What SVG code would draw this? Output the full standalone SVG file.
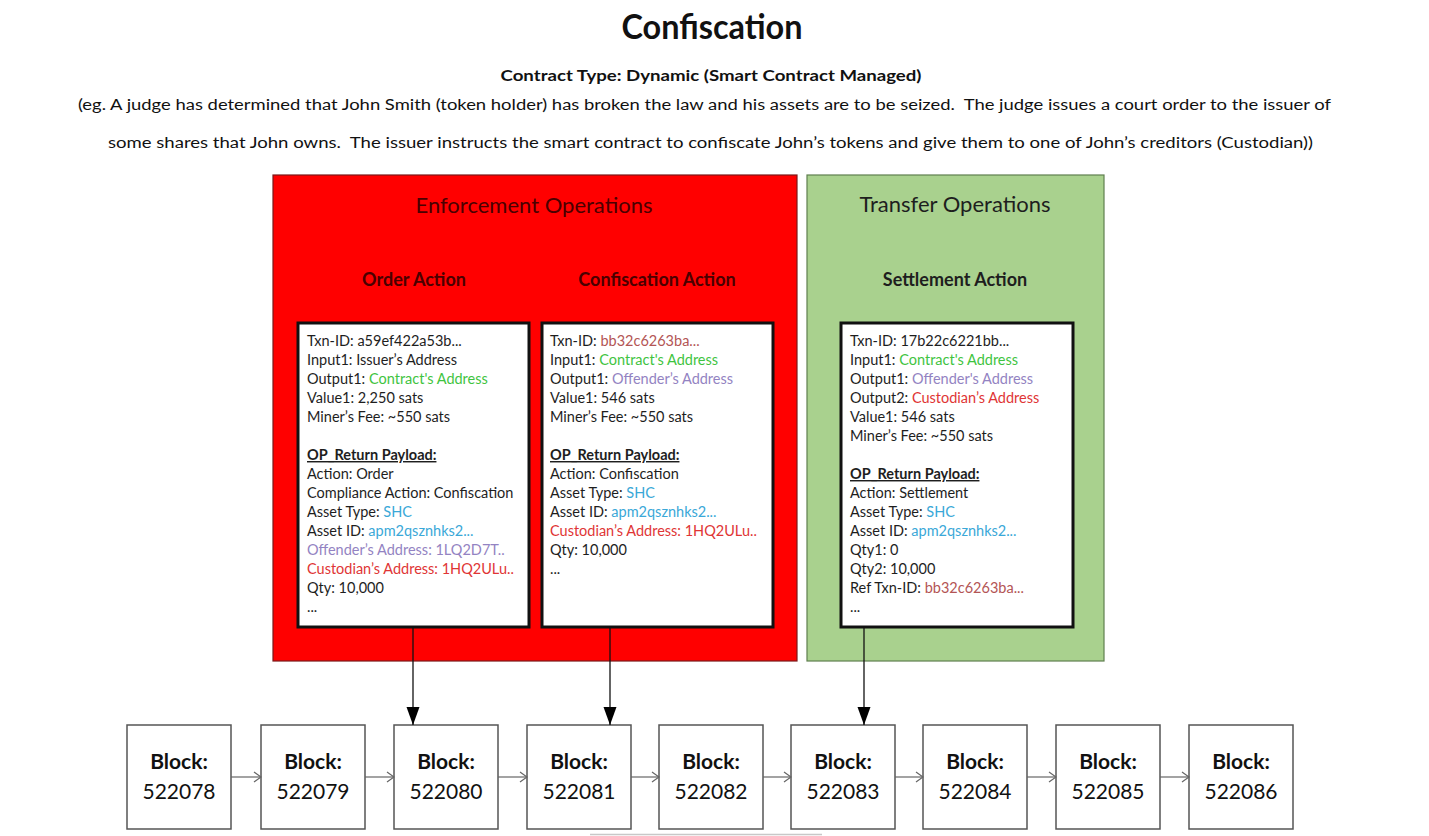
<svg xmlns="http://www.w3.org/2000/svg" width="1429" height="836" viewBox="0 0 1429 836">
<style>
text{font-family:Lato,"Open Sans","Liberation Sans",sans-serif;fill:#1e1e1e}
.title{font-size:35px;font-weight:bold;text-anchor:middle;fill:#111}
.sub{font-size:15.5px;font-weight:bold;text-anchor:middle;fill:#111}
.desc{font-size:15.5px;fill:#111}
.grp{font-size:22px;text-anchor:middle}
.act{font-size:18px;font-weight:bold;text-anchor:middle}
.red .grp,.red .act{fill:#4a0000}
.tx{font-size:14.5px}
.hd{font-weight:bold;text-decoration:underline}
.g{fill:#3fc43f}.p{fill:#9383c2}.r{fill:#e03535}.b{fill:#3aa8d8}.br{fill:#b35555}
.txbox{fill:#fff;stroke:#111;stroke-width:3}
.blk rect{fill:#fff;stroke:#555;stroke-width:1.5}
.blk text{font-size:21px;text-anchor:middle;fill:#111}
.blk .bl{font-weight:bold}
.conn line{stroke:#111;stroke-width:1.3}
.conn line.chain{stroke:#666;stroke-width:1.2}
</style>
<defs>
<marker id="tip" markerUnits="userSpaceOnUse" markerWidth="20" markerHeight="14" viewBox="0 0 20 14" refX="19" refY="7" orient="auto">
<path d="M1,0.5 L19,7 L1,13.5 Z" fill="#000"/>
</marker>
<marker id="chev" markerUnits="userSpaceOnUse" markerWidth="10" markerHeight="12" viewBox="0 0 10 12" refX="9" refY="6" orient="auto">
<path d="M2,1 L9,6 L2,11" fill="none" stroke="#666" stroke-width="1.2"/>
</marker>
</defs>
<rect width="1429" height="836" fill="#fff"/>

<g id="header">
<text class="title" x="712" y="39" textLength="181" lengthAdjust="spacingAndGlyphs">Confiscation</text>
<text class="sub" x="711" y="81" textLength="421" lengthAdjust="spacingAndGlyphs">Contract Type: Dynamic (Smart Contract Managed)</text>
<text class="desc" x="78" y="110" textLength="1253" lengthAdjust="spacingAndGlyphs" xml:space="preserve">(eg. A judge has determined that John Smith (token holder) has broken the law and his assets are to be seized.  The judge issues a court order to the issuer of</text>
<text class="desc" x="108" y="148" textLength="1205" lengthAdjust="spacingAndGlyphs" xml:space="preserve">some shares that John owns.  The issuer instructs the smart contract to confiscate John’s tokens and give them to one of John’s creditors (Custodian))</text>
</g>

<g id="enforcement" class="red">
<rect x="273" y="175" width="524" height="486" fill="#ff0000" stroke="#7a1a1a" stroke-width="1.2"/>
<text class="grp" x="534" y="213">Enforcement Operations</text>
<text class="act" x="414" y="286">Order Action</text>
<text class="act" x="657" y="286">Confiscation Action</text>
</g>

<g id="transfer">
<rect x="807" y="175" width="297" height="486" fill="#a9d18e" stroke="#5f7f4f" stroke-width="1.2"/>
<text class="grp" x="955" y="212">Transfer Operations</text>
<text class="act" x="955" y="286">Settlement Action</text>
</g>

<g id="order-tx">
<rect class="txbox" x="298" y="323" width="231" height="304"/>
<text class="tx" x="307" y="346">Txn-ID: a59ef422a53b...</text>
<text class="tx" x="307" y="365">Input1: Issuer’s Address</text>
<text class="tx" x="307" y="384">Output1: <tspan class="g">Contract's Address</tspan></text>
<text class="tx" x="307" y="403">Value1: 2,250 sats</text>
<text class="tx" x="307" y="422">Miner’s Fee: ~550 sats</text>
<text class="tx hd" x="307" y="460">OP_Return Payload:</text>
<text class="tx" x="307" y="479">Action: Order</text>
<text class="tx" x="307" y="498">Compliance Action: Confiscation</text>
<text class="tx" x="307" y="517">Asset Type: <tspan class="b">SHC</tspan></text>
<text class="tx" x="307" y="536">Asset ID: <tspan class="b">apm2qsznhks2...</tspan></text>
<text class="tx p" x="307" y="555">Offender’s Address: 1LQ2D7T..</text>
<text class="tx r" x="307" y="574">Custodian’s Address: 1HQ2ULu..</text>
<text class="tx" x="307" y="593">Qty: 10,000</text>
<text class="tx" x="307" y="612">...</text>
</g>

<g id="confiscation-tx">
<rect class="txbox" x="542" y="323" width="231" height="304"/>
<text class="tx" x="550" y="346">Txn-ID: <tspan class="br">bb32c6263ba...</tspan></text>
<text class="tx" x="550" y="365">Input1: <tspan class="g">Contract's Address</tspan></text>
<text class="tx" x="550" y="384">Output1: <tspan class="p">Offender’s Address</tspan></text>
<text class="tx" x="550" y="403">Value1: 546 sats</text>
<text class="tx" x="550" y="422">Miner’s Fee: ~550 sats</text>
<text class="tx hd" x="550" y="460">OP_Return Payload:</text>
<text class="tx" x="550" y="479">Action: Confiscation</text>
<text class="tx" x="550" y="498">Asset Type: <tspan class="b">SHC</tspan></text>
<text class="tx" x="550" y="517">Asset ID: <tspan class="b">apm2qsznhks2...</tspan></text>
<text class="tx r" x="550" y="536">Custodian’s Address: 1HQ2ULu..</text>
<text class="tx" x="550" y="555">Qty: 10,000</text>
<text class="tx" x="550" y="574">...</text>
</g>

<g id="settlement-tx">
<rect class="txbox" x="841" y="323" width="232" height="304"/>
<text class="tx" x="850" y="346">Txn-ID: 17b22c6221bb...</text>
<text class="tx" x="850" y="365">Input1: <tspan class="g">Contract's Address</tspan></text>
<text class="tx" x="850" y="384">Output1: <tspan class="p">Offender's Address</tspan></text>
<text class="tx" x="850" y="403">Output2: <tspan class="r">Custodian’s Address</tspan></text>
<text class="tx" x="850" y="422">Value1: 546 sats</text>
<text class="tx" x="850" y="441">Miner’s Fee: ~550 sats</text>
<text class="tx hd" x="850" y="479">OP_Return Payload:</text>
<text class="tx" x="850" y="498">Action: Settlement</text>
<text class="tx" x="850" y="517">Asset Type: <tspan class="b">SHC</tspan></text>
<text class="tx" x="850" y="536">Asset ID: <tspan class="b">apm2qsznhks2...</tspan></text>
<text class="tx" x="850" y="555">Qty1: 0</text>
<text class="tx" x="850" y="574">Qty2: 10,000</text>
<text class="tx" x="850" y="593">Ref Txn-ID: <tspan class="br">bb32c6263ba...</tspan></text>
<text class="tx" x="850" y="612">...</text>
</g>

<g id="block-522078" class="blk"><rect x="127" y="725" width="104" height="104"/><text class="bl" x="179" y="769">Block:</text><text x="179" y="799">522078</text></g>
<g id="block-522079" class="blk"><rect x="261" y="725" width="104" height="104"/><text class="bl" x="313" y="769">Block:</text><text x="313" y="799">522079</text></g>
<g id="block-522080" class="blk"><rect x="394" y="725" width="104" height="104"/><text class="bl" x="446" y="769">Block:</text><text x="446" y="799">522080</text></g>
<g id="block-522081" class="blk"><rect x="527" y="725" width="104" height="104"/><text class="bl" x="579" y="769">Block:</text><text x="579" y="799">522081</text></g>
<g id="block-522082" class="blk"><rect x="659" y="725" width="104" height="104"/><text class="bl" x="711" y="769">Block:</text><text x="711" y="799">522082</text></g>
<g id="block-522083" class="blk"><rect x="791" y="725" width="104" height="104"/><text class="bl" x="843" y="769">Block:</text><text x="843" y="799">522083</text></g>
<g id="block-522084" class="blk"><rect x="923" y="725" width="104" height="104"/><text class="bl" x="975" y="769">Block:</text><text x="975" y="799">522084</text></g>
<g id="block-522085" class="blk"><rect x="1056" y="725" width="104" height="104"/><text class="bl" x="1108" y="769">Block:</text><text x="1108" y="799">522085</text></g>
<g id="block-522086" class="blk"><rect x="1189" y="725" width="104" height="104"/><text class="bl" x="1241" y="769">Block:</text><text x="1241" y="799">522086</text></g>

<g id="connectors" class="conn">
<line x1="413" y1="627" x2="413" y2="725" marker-end="url(#tip)"/>
<line x1="610" y1="627" x2="610" y2="725" marker-end="url(#tip)"/>
<line x1="864" y1="627" x2="864" y2="725" marker-end="url(#tip)"/>
<line class="chain" x1="231" y1="777" x2="261" y2="777" marker-end="url(#chev)"/>
<line class="chain" x1="365" y1="777" x2="394" y2="777" marker-end="url(#chev)"/>
<line class="chain" x1="498" y1="777" x2="527" y2="777" marker-end="url(#chev)"/>
<line class="chain" x1="631" y1="777" x2="659" y2="777" marker-end="url(#chev)"/>
<line class="chain" x1="763" y1="777" x2="791" y2="777" marker-end="url(#chev)"/>
<line class="chain" x1="895" y1="777" x2="923" y2="777" marker-end="url(#chev)"/>
<line class="chain" x1="1027" y1="777" x2="1056" y2="777" marker-end="url(#chev)"/>
<line class="chain" x1="1160" y1="777" x2="1189" y2="777" marker-end="url(#chev)"/>
</g>
<line x1="590" y1="834.5" x2="822" y2="834.5" stroke="#c8c8c8" stroke-width="1.5"/>
</svg>
